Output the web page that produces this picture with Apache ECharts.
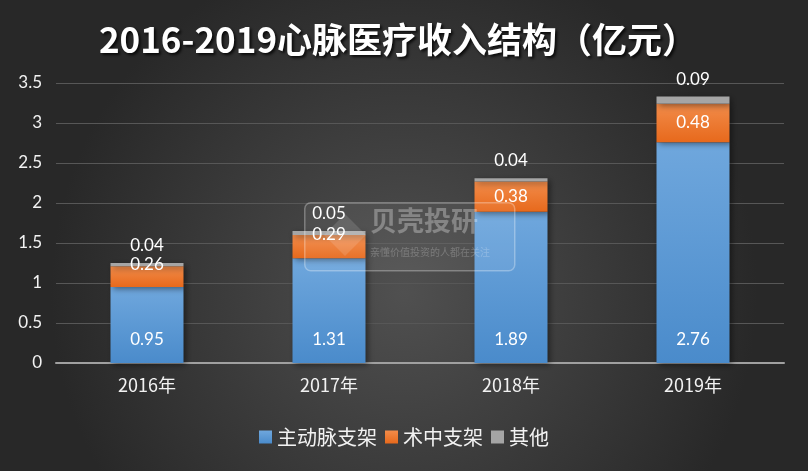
<!DOCTYPE html>
<html>
<head>
<meta charset="utf-8">
<script src="https://cdn.jsdelivr.net/npm/echarts@6/dist/echarts.min.js"></script>
<style>
  html, body { margin: 0; padding: 0; }
  #chart { width: 808px; height: 471px; }
</style>
</head>
<body>
<div id="chart"></div>
<script>
const years = ['2016年', '2017年', '2018年', '2019年']
const mainStent = [0.95, 1.31, 1.89, 2.76]
const surgStent = [0.26, 0.29, 0.38, 0.48]
const others = [0.04, 0.05, 0.04, 0.09]
const yTicks = [0, 0.5, 1, 1.5, 2, 2.5, 3, 3.5]

const labelFont = 'Lato, "Noto Sans CJK SC", sans-serif'
const cjkFont = '"Noto Sans CJK SC", sans-serif'

function vGrad(top, bottom) {
  return new echarts.graphic.LinearGradient(0, 0, 0, 1, [
    { offset: 0, color: top },
    { offset: 1, color: bottom },
  ])
}

const barShadow = { shadowColor: 'rgba(0,0,0,0.45)', shadowBlur: 6, shadowOffsetX: 2, shadowOffsetY: 2 }

const chart = echarts.init(document.getElementById('chart'))

chart.setOption({
  backgroundColor: {
    type: 'radial', x: 0.5, y: 0.62, r: 0.75,
    colorStops: [
      { offset: 0, color: '#505050' },
      { offset: 1, color: '#282828' },
    ],
  },
  title: {
    text: '2016-2019心脉医疗收入结构（亿元）',
    left: 393,
    top: 17,
    textAlign: 'center',
    textStyle: {
      color: '#ffffff',
      fontSize: 35,
      fontWeight: 'bold',
      fontFamily: cjkFont,
      textShadowColor: 'rgba(0,0,0,0.8)',
      textShadowBlur: 3,
      textShadowOffsetX: 2,
      textShadowOffsetY: 2,
    },
  },
  legend: {
    bottom: 19,
    left: 'center',
    itemWidth: 13,
    itemHeight: 13,
    itemGap: 8,
    icon: 'rect',
    textStyle: { color: '#f2f2f2', fontSize: 20, fontFamily: cjkFont },
    data: ['主动脉支架', '术中支架', '其他'],
  },
  grid: { left: 56, right: 24, top: 83, bottom: 108 },
  xAxis: {
    type: 'category',
    data: years,
    axisTick: { show: false },
    axisLine: { lineStyle: { color: '#a0a0a0', width: 2 } },
    axisLabel: { color: '#f2f2f2', fontSize: 18, fontFamily: cjkFont, margin: 13 },
  },
  yAxis: {
    type: 'value',
    min: yTicks[0],
    max: yTicks[yTicks.length - 1],
    interval: 0.5,
    axisLine: { show: false },
    axisTick: { show: false },
    splitLine: { lineStyle: { color: '#575757', width: 1 } },
    axisLabel: { color: '#f2f2f2', fontSize: 17, fontFamily: labelFont, margin: 14 },
  },
  // faint watermark box over the middle of the chart
  graphic: [
    {
      type: 'rect',
      left: 304, top: 202, z: 100, silent: true,
      shape: { width: 210, height: 68, r: 6 },
      style: { fill: 'rgba(255,255,255,0.06)', stroke: 'rgba(255,255,255,0.3)', lineWidth: 1.5 },
    },
    {
      type: 'polygon',
      left: 324, top: 214, z: 100, silent: true,
      shape: { points: [[21, 0], [42, 21], [21, 42], [0, 21]] },
      style: { fill: 'rgba(255,255,255,0.13)' },
    },
    {
      type: 'text',
      left: 370, top: 207, z: 100, silent: true,
      style: {
        text: '贝壳投研',
        fill: 'rgba(255,255,255,0.3)', fontSize: 27, fontWeight: 'bold', fontFamily: cjkFont,
      },
    },
    {
      type: 'text',
      left: 370, top: 247, z: 100, silent: true,
      style: {
        text: '亲懂价值投资的人都在关注',
        fill: 'rgba(255,255,255,0.22)', fontSize: 10, fontFamily: cjkFont,
      },
    },
  ],
  series: [
    {
      name: '主动脉支架',
      type: 'bar',
      stack: 'total',
      barWidth: 73,
      data: mainStent,
      itemStyle: { color: vGrad('#6fa7dd', '#4a8bcb'), ...barShadow },
      label: {
        show: true, position: 'insideBottom', distance: 15,
        color: '#ffffff', fontSize: 17, fontFamily: labelFont,
      },
    },
    {
      name: '术中支架',
      type: 'bar',
      stack: 'total',
      data: surgStent.map(v => ({
        value: v,
        label: v < 0.3 ? { offset: [0, -12] } : {},
      })),
      itemStyle: { color: vGrad('#f28c4a', '#e7691c'), ...barShadow },
      label: {
        show: true, position: 'inside',
        color: '#ffffff', fontSize: 17, fontFamily: labelFont,
      },
    },
    {
      name: '其他',
      type: 'bar',
      stack: 'total',
      data: others,
      itemStyle: { color: '#a5a5a5', ...barShadow },
      label: {
        show: true, position: 'top', distance: 9,
        color: '#ffffff', fontSize: 17, fontFamily: labelFont,
      },
    },
  ],
})
</script>
</body>
</html>
